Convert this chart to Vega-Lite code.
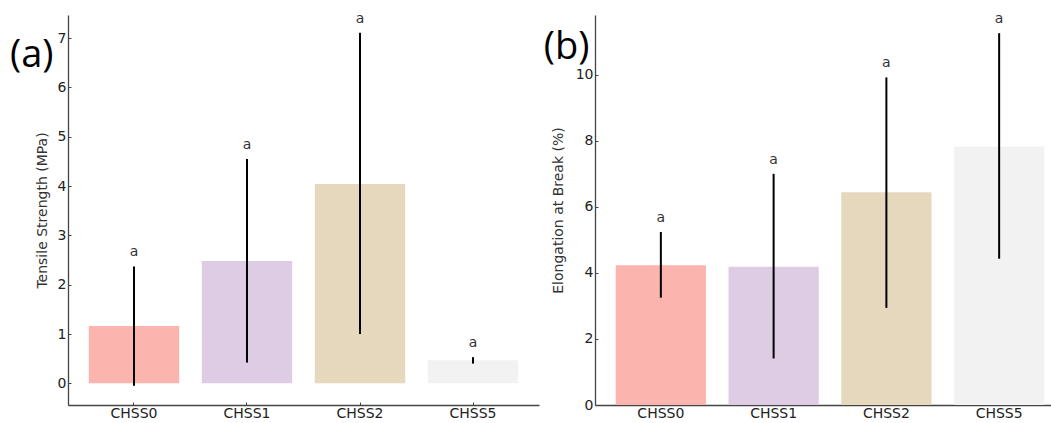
{
  "$schema": "https://vega.github.io/schema/vega-lite/v6.json",
  "autosize": {"type": "pad"},
  "padding": {"left": 10, "top": 11, "right": 0, "bottom": 0},
  "background": "white",
  "config": {
    "view": {"stroke": null},
    "font": "DejaVu Sans",
    "axis": {
      "domainColor": "#444",
      "domainWidth": 1.3,
      "tickColor": "#444",
      "tickSize": -3,
      "tickWidth": 1,
      "labelFont": "DejaVu Sans",
      "labelFontSize": 14,
      "labelColor": "#222",
      "titleFont": "DejaVu Sans",
      "titleFontSize": 14,
      "titleFontWeight": "normal",
      "titleColor": "#333",
      "grid": false
    },
    "axisX": {"labelAngle": 0, "labelPadding": 4},
    "axisY": {"labelPadding": 5}
  },
  "datasets": {
    "ts": [
      {"sample": "CHSS0", "mean": 1.16, "lo": -0.05, "hi": 2.37, "sig": "a"},
      {"sample": "CHSS1", "mean": 2.48, "lo": 0.42, "hi": 4.55, "sig": "a"},
      {"sample": "CHSS2", "mean": 4.04, "lo": 1.0, "hi": 7.11, "sig": "a"},
      {"sample": "CHSS5", "mean": 0.47, "lo": 0.4, "hi": 0.53, "sig": "a"}
    ],
    "el": [
      {"sample": "CHSS0", "mean": 4.23, "lo": 3.25, "hi": 5.24, "sig": "a"},
      {"sample": "CHSS1", "mean": 4.19, "lo": 1.41, "hi": 7.0, "sig": "a"},
      {"sample": "CHSS2", "mean": 6.44, "lo": 2.94, "hi": 9.92, "sig": "a"},
      {"sample": "CHSS5", "mean": 7.83, "lo": 4.43, "hi": 11.26, "sig": "a"}
    ]
  },
  "bounds": "flush",
  "spacing": 56,
  "hconcat": [
    {
      "width": 471,
      "height": 390,
      "data": {"name": "ts"},
      "title": {"text": "(a)", "orient": "left", "anchor": "end", "frame": "group", "angle": 0, "align": "right", "baseline": "top", "font": "Open Sans", "fontSize": 38, "fontWeight": "normal", "color": "black", "offset": -62, "dy": 22},
      "encoding": {
        "x": {"field": "sample", "type": "nominal", "sort": null, "scale": {"paddingInner": 0.2, "paddingOuter": 0.184}, "axis": {"title": null}}
      },
      "layer": [
        {
          "mark": {"type": "bar"},
          "encoding": {
            "y": {"field": "mean", "type": "quantitative", "scale": {"domain": [-0.44, 7.47], "nice": false, "zero": false}, "axis": {"title": "Tensile Strength (MPa)", "values": [0, 1, 2, 3, 4, 5, 6, 7], "titlePadding": 8}},
            "y2": {"datum": 0},
            "color": {"field": "sample", "type": "nominal", "scale": {"domain": ["CHSS0", "CHSS1", "CHSS2", "CHSS5"], "range": ["#fbb4ae", "#decbe4", "#e5d8bd", "#f2f2f2"]}, "legend": null}
          }
        },
        {
          "mark": {"type": "rule", "color": "black", "strokeWidth": 2},
          "encoding": {"y": {"field": "lo", "type": "quantitative"}, "y2": {"field": "hi"}}
        },
        {
          "mark": {"type": "text", "dy": -14, "baseline": "middle", "fontSize": 14, "color": "#333", "font": "DejaVu Sans"},
          "encoding": {"y": {"field": "hi", "type": "quantitative"}, "text": {"field": "sig"}}
        }
      ]
    },
    {
      "width": 470,
      "height": 390,
      "data": {"name": "el"},
      "title": {"text": "(b)", "orient": "left", "anchor": "end", "frame": "group", "angle": 0, "align": "right", "baseline": "top", "font": "Open Sans", "fontSize": 38, "fontWeight": "normal", "color": "black", "offset": -84, "dy": 14},
      "encoding": {
        "x": {"field": "sample", "type": "nominal", "sort": null, "scale": {"paddingInner": 0.2, "paddingOuter": 0.184}, "axis": {"title": null}}
      },
      "layer": [
        {
          "mark": {"type": "bar"},
          "encoding": {
            "y": {"field": "mean", "type": "quantitative", "scale": {"domain": [0, 11.81], "nice": false, "zero": false}, "axis": {"title": "Elongation at Break (%)", "values": [0, 2, 4, 6, 8, 10], "titlePadding": 10}},
            "y2": {"datum": 0},
            "color": {"field": "sample", "type": "nominal", "scale": {"domain": ["CHSS0", "CHSS1", "CHSS2", "CHSS5"], "range": ["#fbb4ae", "#decbe4", "#e5d8bd", "#f2f2f2"]}, "legend": null}
          }
        },
        {
          "mark": {"type": "rule", "color": "black", "strokeWidth": 2},
          "encoding": {"y": {"field": "lo", "type": "quantitative"}, "y2": {"field": "hi"}}
        },
        {
          "mark": {"type": "text", "dy": -14, "baseline": "middle", "fontSize": 14, "color": "#333", "font": "DejaVu Sans"},
          "encoding": {"y": {"field": "hi", "type": "quantitative"}, "text": {"field": "sig"}}
        }
      ]
    }
  ]
}
